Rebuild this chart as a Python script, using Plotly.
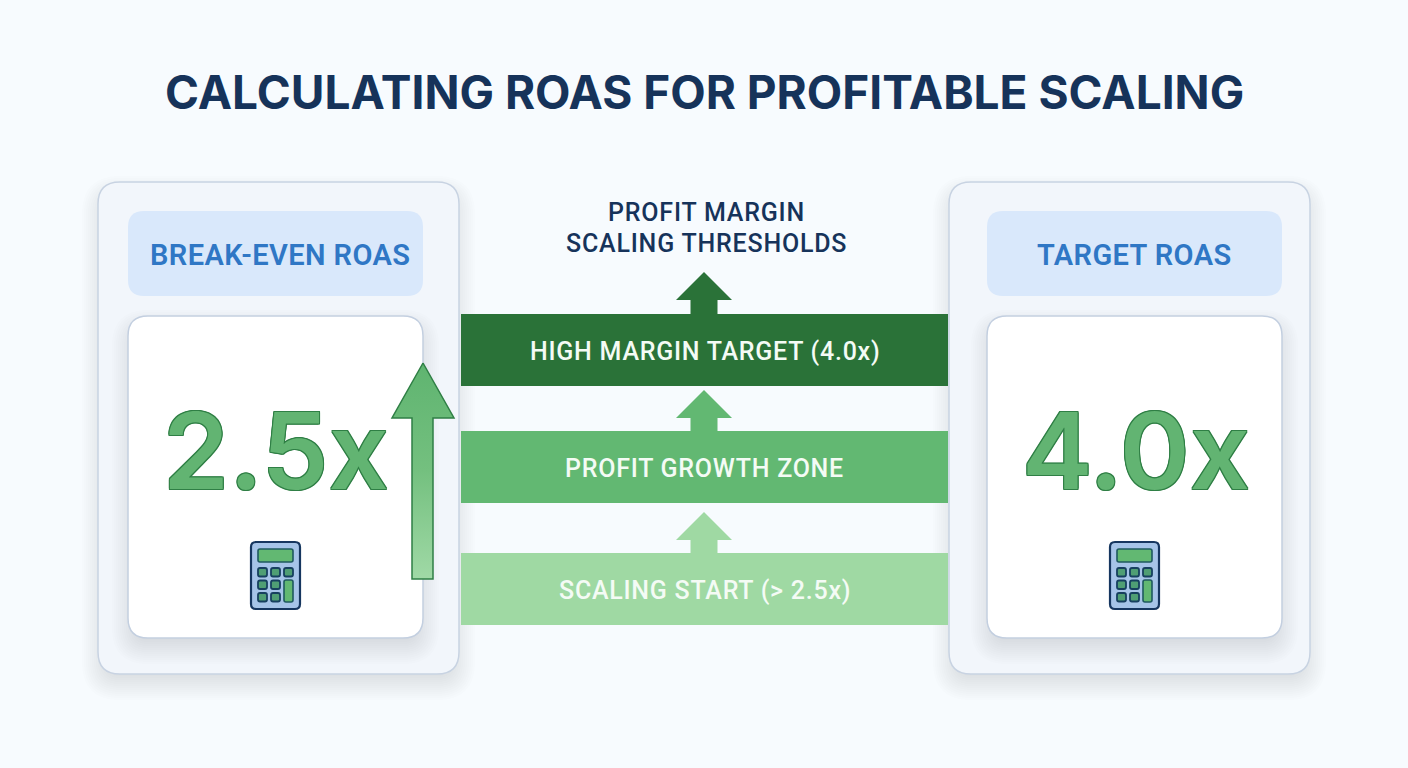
import plotly.graph_objects as go

W, H = 1408, 768

title = "CALCULATING ROAS FOR PROFITABLE SCALING"
center_lines = ["PROFIT MARGIN", "SCALING THRESHOLDS"]

card_titles = ["BREAK-EVEN ROAS", "TARGET ROAS"]
card_values = ["2.5x", "4.0x"]

band_labels = ["HIGH MARGIN TARGET (4.0x)", "PROFIT GROWTH ZONE", "SCALING START (> 2.5x)"]
band_colors = ["#2a7238", "#62b872", "#9fd9a3"]

NAVY = "#16335a"
BLUE = "#2f77c5"
GREEN = "#62b472"
GREEN_DARK = "#2f7f45"

shapes = []
annotations = []


def rounded(x0, y0, x1, y1, r):
    return (f"M{x0+r},{y0} L{x1-r},{y0} Q{x1},{y0} {x1},{y0+r} L{x1},{y1-r} Q{x1},{y1} {x1-r},{y1} "
            f"L{x0+r},{y1} Q{x0},{y1} {x0},{y1-r} L{x0},{y0+r} Q{x0},{y0} {x0+r},{y0} Z")


def add_box(x0, y0, x1, y1, r, fill, line=None, width=1):
    shapes.append(dict(type="path", path=rounded(x0, y0, x1, y1, r), fillcolor=fill,
                       line=dict(color=line or fill, width=width if line else 0),
                       xref="x", yref="y", layer="below"))


def add_shadow(x0, y0, x1, y1, r, dy, outer, inner, alpha):
    # soft shadow, stacked translucent boxes
    for i in range(outer, inner, -2):
        add_box(x0 - i, y0 - i + dy, x1 + i, y1 + i + dy, max(r + i, 2), f"rgba(60,75,100,{alpha})")


def add_text(x, y, text, size, color, weight=500, family="Roboto", shadow=None, spacing=0):
    if spacing:
        text = f'<span style="letter-spacing:{spacing}px">{text}</span>'
    annotations.append(dict(x=x, y=y, text=text, showarrow=False, xref="x", yref="y",
                            xanchor="center", yanchor="middle",
                            font=dict(family=family, size=size, color=color, weight=weight,
                                      shadow=shadow or "none")))


def arrow_path(cx, tip, base, bottom, head_w, shaft_w):
    return (f"M{cx},{tip} L{cx+head_w/2},{base} L{cx+shaft_w/2},{base} L{cx+shaft_w/2},{bottom} "
            f"L{cx-shaft_w/2},{bottom} L{cx-shaft_w/2},{base} L{cx-head_w/2},{base} Z")


def add_calculator(x0, y0):
    add_box(x0, y0, x0 + 49, y0 + 67, 5, "#a6c4e8", "#16365f", 2.2)
    add_box(x0 + 7, y0 + 7, x0 + 42, y0 + 20, 2, "#62b872", "#1f5a5f", 1.6)
    for row in range(3):
        for col in range(3):
            if col == 2 and row > 0:
                continue
            bx = x0 + 7 + col * 13
            by = y0 + 26 + row * 12.5
            add_box(bx, by, bx + 9, by + 8.5, 2, "#4f9e74", "#17405f", 1.8)
    add_box(x0 + 33, y0 + 38, x0 + 42, y0 + 60, 2, "#62b872", "#1f5a5f", 1.6)


outline = ",".join(f"{a}px {b}px 0 {GREEN_DARK}" for a, b in
                   [(1, 0), (-1, 0), (0, 1), (0, -1), (1, 1), (-1, -1), (1, -1), (-1, 1)])

# side cards
title_x = [279.5, 1134.5]
value_x = [276, 1135.5]
for i, (card_x, inner_x) in enumerate([(98, 128), (949, 987)]):
    add_shadow(card_x, 182, card_x + 361, 674, 22, 10, 16, -10, 0.012)
    add_box(card_x, 182, card_x + 361, 674, 22, "#f2f6fb", "#c8d3e2", 1.5)
    add_box(inner_x, 211, inner_x + 295, 296, 16, "#d9e8fb")
    add_shadow(inner_x, 316, inner_x + 295, 638, 20, 10, 16, -10, 0.013)
    add_box(inner_x, 316, inner_x + 295, 638, 20, "#ffffff", "#c3cfe0", 1.5)
    add_text(title_x[i], 254.5, card_titles[i], 29, BLUE, 600, spacing=0.4)
    add_text(value_x[i], 450, card_values[i], 106, GREEN, 600, "Inter", outline)
    add_calculator(inner_x + 123, 542)

# threshold bands with their arrows
band_tops = [314, 431, 553]
arrow_tips = [272, 390, 512]
for label, color, top, tip in zip(band_labels, band_colors, band_tops, arrow_tips):
    shapes.append(dict(type="rect", x0=461, x1=948, y0=top, y1=top + 72, fillcolor=color,
                       line=dict(width=0), xref="x", yref="y", layer="below"))
    shapes.append(dict(type="path", path=arrow_path(704, tip, tip + 28, top + 1, 56, 27),
                       fillcolor=color, line=dict(width=0), xref="x", yref="y", layer="below"))
    add_text(704.5, top + 37, label, 25, "#f4fbf5", 500, spacing=0.75)

add_text(704, 92, title, 46, NAVY, 700, "Inter")
add_text(706, 212, center_lines[0], 25, NAVY, 500, spacing=0.8)
add_text(706.5, 243, center_lines[1], 25, NAVY, 500, spacing=0.8)

fig = go.Figure()

# tall arrow next to the 2.5x card
fig.add_trace(go.Scatter(
    x=[423, 454, 433, 433, 412, 412, 392, 423],
    y=[363, 418, 418, 579, 579, 418, 418, 363],
    mode="lines", fill="toself",
    line=dict(color=GREEN_DARK, width=1.5),
    fillgradient=dict(type="vertical",
                      colorscale=[[0, "#a0d9a6"], [0.5, "#74c07f"], [1, "#5fb470"]]),
    hoverinfo="skip", showlegend=False))

fig.update_layout(
    width=W, height=H,
    margin=dict(l=0, r=0, t=0, b=0),
    paper_bgcolor="#f7fbfe", plot_bgcolor="rgba(0,0,0,0)",
    shapes=shapes, annotations=annotations,
    xaxis=dict(range=[0, W], visible=False, fixedrange=True),
    yaxis=dict(range=[H, 0], visible=False, fixedrange=True),
)

fig.write_html("out.html", config=dict(displayModeBar=False),
               post_script="document.body.style.margin='0';")
